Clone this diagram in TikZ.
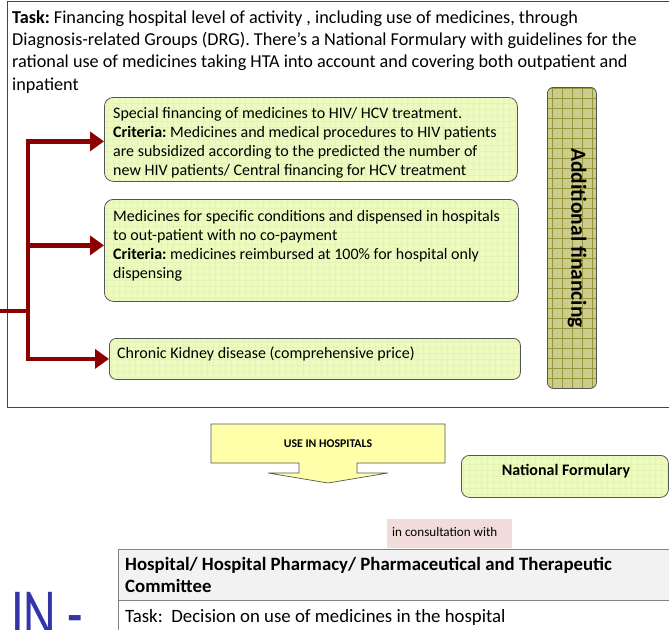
\documentclass[tikz,border=0pt]{standalone}
\usepackage{fontspec}
\setmainfont{Carlito}
\frenchspacing
\usetikzlibrary{arrows.meta}
\definecolor{arrowred}{RGB}{140,0,0}
\definecolor{boxline}{RGB}{85,85,85}
\definecolor{gfill}{RGB}{238,251,192}
\definecolor{gridc}{RGB}{228,245,178}
\definecolor{olivefill}{RGB}{204,204,140}
\definecolor{olivegrid}{RGB}{150,150,60}
\definecolor{arrowfill}{RGB}{255,255,170}
\definecolor{pinkfill}{RGB}{242,220,219}
\definecolor{headfill}{RGB}{242,242,242}
\definecolor{tableline}{RGB}{130,130,130}
\definecolor{outerline}{RGB}{70,70,70}
\definecolor{inblue}{RGB}{52,52,168}
\tikzset{
  gbox/.style={draw=boxline, line width=0.8pt, rounded corners=9pt, fill=gfill,
    inner sep=0pt, anchor=north west,
    path picture={\draw[gridc, line width=0.4pt, step=6pt]
      (path picture bounding box.south west) grid (path picture bounding box.north east);}},
  obox/.style={draw=boxline, line width=0.8pt, rounded corners=6pt, fill=olivefill,
    inner sep=0pt, anchor=north west,
    path picture={\draw[olivegrid, line width=0.5pt, step=10pt]
      (path picture bounding box.south west) grid (path picture bounding box.north east);}},
  boxtxt/.style={font=\fontsize{16}{19}\selectfont, align=left, inner sep=0pt, anchor=north west},
  redarrow/.style={draw=arrowred, line width=4.5pt, line join=miter,
    -{Triangle[length=14pt,width=19pt]}},
  redline/.style={draw=arrowred, line width=4.5pt, line join=miter},
}
\begin{document}
\begin{tikzpicture}[x=1pt,y=-1pt]
\useasboundingbox (0,0) rectangle (669,629);
\clip (0,0) rectangle (669,629);
\fill[white] (0,0) rectangle (669,629);

% outer frame
\draw[outerline, line width=0.8pt] (7,1) rectangle (690,407);

% task text
\node[font=\fontsize{18.2}{22.3}\selectfont, align=left, inner sep=0pt, anchor=north west] (task) at (12,10.3)
  {\textbf{Task:} Financing hospital level of activity , including use of medicines, through\\
   Diagnosis-related Groups (DRG). There’s a National Formulary with guidelines for the\\
   rational use of medicines taking HTA into account and covering both outpatient and\\
   inpatient};

% green boxes
\node[gbox, minimum width=413pt, minimum height=84pt] (b1) at (104,97) {};
\node[gbox, minimum width=414pt, minimum height=102pt] (b2) at (104,199) {};
\node[gbox, minimum width=411pt, minimum height=41pt, rounded corners=7pt] (b3) at (109,338) {};

\node[boxtxt] (t1) at (113,107.5)
  {Special financing of medicines to HIV/ HCV treatment.\\
   \textbf{Criteria:} Medicines and medical procedures to HIV patients\\
   are subsidized according to the predicted the number of\\
   new HIV patients/ Central financing for HCV treatment};
\node[boxtxt] (t2) at (113,210.5)
  {Medicines for specific conditions and dispensed in hospitals\\
   to out-patient with no co-payment\\
   \textbf{Criteria:} medicines reimbursed at 100\% for hospital only\\
   dispensing};
\node[boxtxt] (t3) at (117,346.5) {Chronic Kidney disease (comprehensive price)};

% additional financing
\node[obox, minimum width=49pt, minimum height=301pt] (af) at (547,87) {};
\node[rotate=-90, font=\bfseries\fontsize{21.5}{21.5}\selectfont, inner sep=0pt] (aft) at (577,238)
  {Additional financing};

% red connectors
\coordinate (src) at (-5,311);
\coordinate (jn) at (28,311);
\draw[redline] (src) -- (jn);
\draw[redarrow] (jn) |- ([yshift=-2pt]b1.west);
\draw[redarrow] (jn) |- ([yshift=5pt]b2.west);
\draw[redarrow] (jn) |- (b3.west);

% use in hospitals arrow
\draw[draw=boxline, line width=0.7pt, fill=arrowfill]
  (211,424) -- (445,424) -- (445,463) -- (357,463) -- (357,473) -- (388,473)
  -- (328,483) -- (268,473) -- (299,473) -- (299,463) -- (211,463) -- cycle;
\node[font=\bfseries\fontsize{11.8}{11.8}\selectfont, inner sep=0pt] (use) at (328,444) {USE IN HOSPITALS};

% national formulary
\node[gbox, minimum width=207pt, minimum height=42pt, rounded corners=8pt] (nf) at (461,455) {};
\node[font=\bfseries\fontsize{16}{16}\selectfont, inner sep=0pt] (nft) at (566,471) {National Formulary};

% in consultation with
\node[fill=pinkfill, minimum width=125pt, minimum height=29pt, inner sep=0pt, anchor=north west] (cons) at (387,519) {};
\node[font=\fontsize{13.1}{13.1}\selectfont, inner sep=0pt, anchor=west] (const) at (392,532) {in consultation with};

% table
\draw[tableline, line width=0.8pt, fill=headfill] (118,549) rectangle (690,600);
\draw[tableline, line width=0.8pt, fill=white] (118,600) rectangle (690,650);
\node[font=\bfseries\fontsize{18.8}{22}\selectfont, align=left, inner sep=0pt, anchor=north west] (hosp) at (125,557.2)
  {Hospital/ Hospital Pharmacy/ Pharmaceutical and Therapeutic\\Committee};
\node[font=\fontsize{18.8}{22}\selectfont, inner sep=0pt, anchor=north west] (htask) at (125,609.2)
  {Task:\ \ Decision on use of medicines in the hospital};

% big IN -
\node[font=\fontsize{72}{72}\selectfont, text=inblue, inner sep=0pt, anchor=base west] (inlabel) at (11,638)
  {\scalebox{0.7}[1]{IN -}};
\end{tikzpicture}
\end{document}
